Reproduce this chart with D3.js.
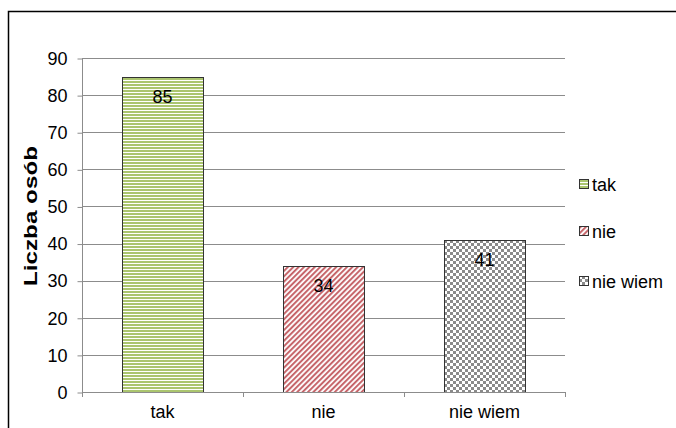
<!DOCTYPE html>
<html>
<head>
<meta charset="utf-8">
<script src="https://cdn.jsdelivr.net/npm/d3@7"></script>
<style>
  html, body { margin: 0; padding: 0; background: #fff; }
  svg { display: block; font-family: "Liberation Sans", Arial, sans-serif; }
</style>
</head>
<body>
<svg id="chart" width="676" height="428"></svg>
<script>
// Survey answers and counts
const categories = ["tak", "nie", "nie wiem"];
const values = [85, 34, 41];
const yTicks = [0, 10, 20, 30, 40, 50, 60, 70, 80, 90];
const yTitle = "Liczba osób";

const svg = d3.select("#chart");
const W = 676, H = 428;
const FS = 18;

// frame around the chart
svg.append("path")
  .attr("d", `M8.5,${H} V11.5 H${W}`)
  .attr("fill", "none")
  .attr("stroke", "#000")
  .attr("stroke-width", 1.5);

// fill patterns for each series
const defs = svg.append("defs");

const pTak = defs.append("pattern").attr("id", "p-tak")
  .attr("patternUnits", "userSpaceOnUse").attr("width", 6).attr("height", 3);
pTak.append("rect").attr("width", 6).attr("height", 3).attr("fill", "#fff");
pTak.append("rect").attr("y", 0).attr("width", 6).attr("height", 2).attr("fill", "#abc56f");

const pNie = defs.append("pattern").attr("id", "p-nie")
  .attr("patternUnits", "userSpaceOnUse").attr("width", 3.8).attr("height", 3.8)
  .attr("patternTransform", "rotate(45)");
pNie.append("rect").attr("width", 3.8).attr("height", 3.8).attr("fill", "#fff");
pNie.append("rect").attr("width", 2).attr("height", 3.8).attr("fill", "#c6656a");

const pWiem = defs.append("pattern").attr("id", "p-wiem")
  .attr("patternUnits", "userSpaceOnUse").attr("width", 6).attr("height", 6);
pWiem.append("rect").attr("width", 6).attr("height", 6).attr("fill", "#fff");
pWiem.append("rect").attr("width", 3).attr("height", 3).attr("fill", "#8a8a8a");
pWiem.append("rect").attr("x", 3).attr("y", 3).attr("width", 3).attr("height", 3).attr("fill", "#8a8a8a");

const fills = ["url(#p-tak)", "url(#p-nie)", "url(#p-wiem)"];

// plot area
const x0 = 82, x1 = 565, yBottom = 392, yTop = 58;

const x = d3.scaleBand().domain(categories).range([x0, x1]).paddingInner(0.5).paddingOuter(0.25);
const y = d3.scaleLinear().domain([0, 90]).range([yBottom, yTop]);

// gridlines
svg.append("g")
  .selectAll("line")
  .data(yTicks.filter(t => t > 0))
  .join("line")
  .attr("x1", x0).attr("x2", x1)
  .attr("y1", d => Math.round(y(d)) + 0.5).attr("y2", d => Math.round(y(d)) + 0.5)
  .attr("stroke", "#8c8c8c").attr("stroke-width", 1);

// y axis
const yAxis = svg.append("g")
  .attr("transform", `translate(${x0 + 0.5},0.5)`)
  .call(d3.axisLeft(y).tickValues(yTicks).tickSize(5).tickPadding(10));
yAxis.select(".domain").attr("stroke", "#8c8c8c").attr("d", `M-0,${yTop}V${yBottom}`);
yAxis.selectAll(".tick line").attr("stroke", "#8c8c8c");
yAxis.selectAll(".tick text")
  .attr("font-size", FS).attr("fill", "#000")
  .attr("font-family", "Liberation Sans, Arial, sans-serif");

// bars
svg.append("g")
  .selectAll("rect")
  .data(values)
  .join("rect")
  .attr("x", (d, i) => Math.round(x(categories[i])) + 0.5)
  .attr("y", d => Math.round(y(d)) + 0.5)
  .attr("width", Math.round(x.bandwidth()))
  .attr("height", d => Math.round(y(0)) - Math.round(y(d)))
  .attr("fill", (d, i) => fills[i])
  .attr("stroke", "#333")
  .attr("stroke-width", 1);

// x axis with category boundary ticks
const band = (x1 - x0) / categories.length;
const xg = svg.append("g");
xg.append("line")
  .attr("x1", x0).attr("x2", x1)
  .attr("y1", yBottom + 0.5).attr("y2", yBottom + 0.5)
  .attr("stroke", "#8c8c8c");
xg.selectAll("line.tick")
  .data(d3.range(categories.length + 1))
  .join("line")
  .attr("class", "tick")
  .attr("x1", i => Math.round(x0 + i * band) + 0.5)
  .attr("x2", i => Math.round(x0 + i * band) + 0.5)
  .attr("y1", yBottom).attr("y2", yBottom + 5)
  .attr("stroke", "#8c8c8c");
xg.selectAll("text")
  .data(categories)
  .join("text")
  .attr("x", d => x(d) + x.bandwidth() / 2)
  .attr("y", 418)
  .attr("text-anchor", "middle")
  .attr("font-size", FS)
  .attr("fill", "#000")
  .text(d => d);

// value labels
svg.append("g")
  .selectAll("text")
  .data(values)
  .join("text")
  .attr("x", (d, i) => x(categories[i]) + x.bandwidth() / 2)
  .attr("y", d => y(d) + 26)
  .attr("text-anchor", "middle")
  .attr("font-size", FS)
  .attr("fill", "#000")
  .text(d => d);

// axis title
svg.append("text")
  .attr("transform", `translate(37,216) rotate(-90)`)
  .attr("text-anchor", "middle")
  .attr("font-size", FS)
  .attr("font-weight", "bold")
  .attr("fill", "#000")
  .attr("textLength", 140)
  .attr("lengthAdjust", "spacingAndGlyphs")
  .text(yTitle);

// legend
const legendY = [184, 231, 281];
const lg = svg.append("g");
categories.forEach((c, i) => {
  lg.append("rect")
    .attr("x", 579.5).attr("y", legendY[i] - 4.5)
    .attr("width", 9).attr("height", 9)
    .attr("fill", fills[i])
    .attr("stroke", "#333").attr("stroke-width", 1);
  lg.append("text")
    .attr("x", 592).attr("y", legendY[i] + 6.5)
    .attr("font-size", FS).attr("fill", "#000")
    .text(c);
});
</script>
</body>
</html>
